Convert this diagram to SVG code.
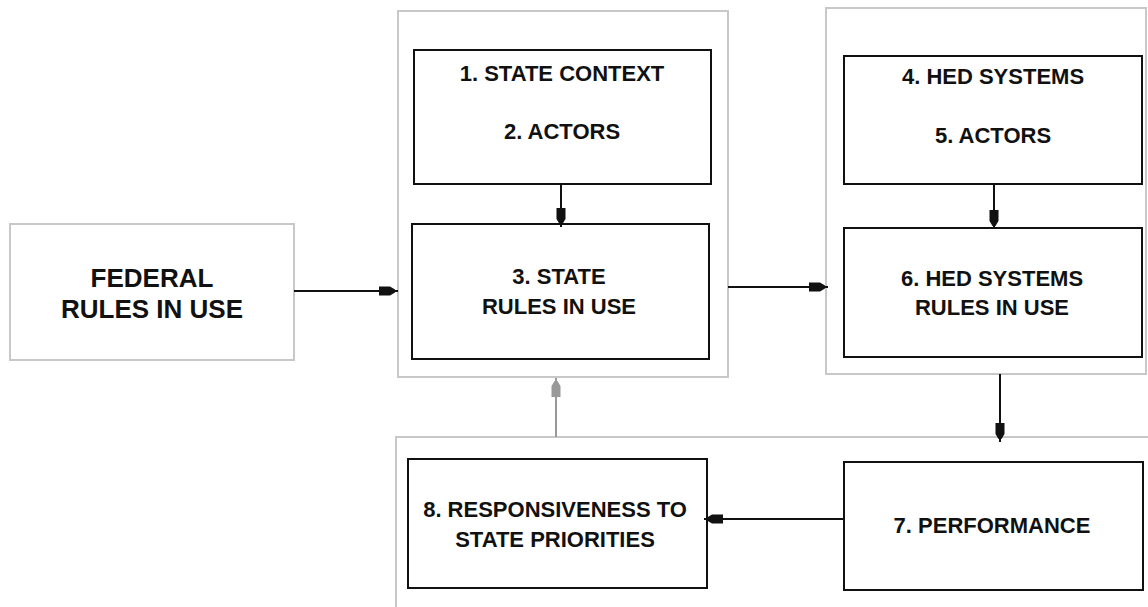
<svg xmlns="http://www.w3.org/2000/svg" width="1148" height="607" viewBox="0 0 1148 607">
<style>
.outer{fill:none;stroke:#c8c8c8;stroke-width:2}
.box{fill:#fff;stroke:#111;stroke-width:2}
.lbl{font-family:"Liberation Sans",Arial,sans-serif;font-weight:bold;font-size:22px;fill:#111;text-anchor:middle}
.big{font-size:26px}
.con{stroke:#111;stroke-width:2;fill:none}
.grey{stroke:#999}
</style>
<defs>
<marker id="ah" viewBox="0 -5 22 10" refX="19" refY="0" markerWidth="22" markerHeight="10" markerUnits="userSpaceOnUse" orient="auto">
<path d="M0,-4.5 L11,-4.5 L16,-1.5 L16,1.5 L11,4.5 L0,4.5 Z" fill="#111"/>
</marker>
<marker id="ahg" viewBox="0 -5 22 10" refX="19" refY="0" markerWidth="22" markerHeight="10" markerUnits="userSpaceOnUse" orient="auto">
<path d="M0,-4.5 L11,-4.5 L16,-1.5 L16,1.5 L11,4.5 L0,4.5 Z" fill="#999"/>
</marker>
</defs>
<rect width="1148" height="607" fill="#fff"/>
<g id="containers">
<rect id="state-group" class="outer" x="398" y="11" width="330" height="366"/>
<rect id="hed-group" class="outer" x="826" y="8" width="320" height="366"/>
<rect id="bottom-group" class="outer" x="396" y="437" width="760" height="190"/>
</g>
<g id="federal">
<rect class="outer" x="10" y="224" width="284" height="136" fill="#fff"/>
<text class="lbl big" x="152" y="287">FEDERAL</text>
<text class="lbl big" x="152" y="318">RULES IN USE</text>
</g>
<g id="n1">
<rect class="box" x="414" y="50" width="297" height="134"/>
<text class="lbl" x="562" y="81">1. STATE CONTEXT</text>
<text class="lbl" x="562" y="139">2. ACTORS</text>
</g>
<g id="n3">
<rect class="box" x="412" y="224" width="297" height="135"/>
<text class="lbl" x="559" y="284">3. STATE</text>
<text class="lbl" x="559" y="314">RULES IN USE</text>
</g>
<g id="n4">
<rect class="box" x="844" y="56" width="298" height="128"/>
<text class="lbl" x="993" y="84">4. HED SYSTEMS</text>
<text class="lbl" x="993" y="143">5. ACTORS</text>
</g>
<g id="n6">
<rect class="box" x="844" y="228" width="298" height="129"/>
<text class="lbl" x="992" y="286">6. HED SYSTEMS</text>
<text class="lbl" x="992" y="315">RULES IN USE</text>
</g>
<g id="n7">
<rect class="box" x="844" y="462" width="299" height="128"/>
<text class="lbl" x="992" y="533">7. PERFORMANCE</text>
</g>
<g id="n8">
<rect class="box" x="408" y="459" width="299" height="129"/>
<text class="lbl" x="555" y="517">8. RESPONSIVENESS TO</text>
<text class="lbl" x="555" y="547">STATE PRIORITIES</text>
</g>
<g id="connectors">
<line class="con" x1="294" y1="291" x2="398" y2="291" marker-end="url(#ah)"/>
<line class="con" x1="561" y1="184" x2="561" y2="227" marker-end="url(#ah)"/>
<line class="con" x1="728" y1="287" x2="828" y2="287" marker-end="url(#ah)"/>
<line class="con" x1="994" y1="184" x2="994" y2="229" marker-end="url(#ah)"/>
<line class="con" x1="1000" y1="374" x2="1000" y2="442" marker-end="url(#ah)"/>
<line class="con" x1="844" y1="519" x2="704" y2="519" marker-end="url(#ah)"/>
<line class="con grey" x1="556" y1="437" x2="556" y2="378" marker-end="url(#ahg)"/>
</g>
</svg>
